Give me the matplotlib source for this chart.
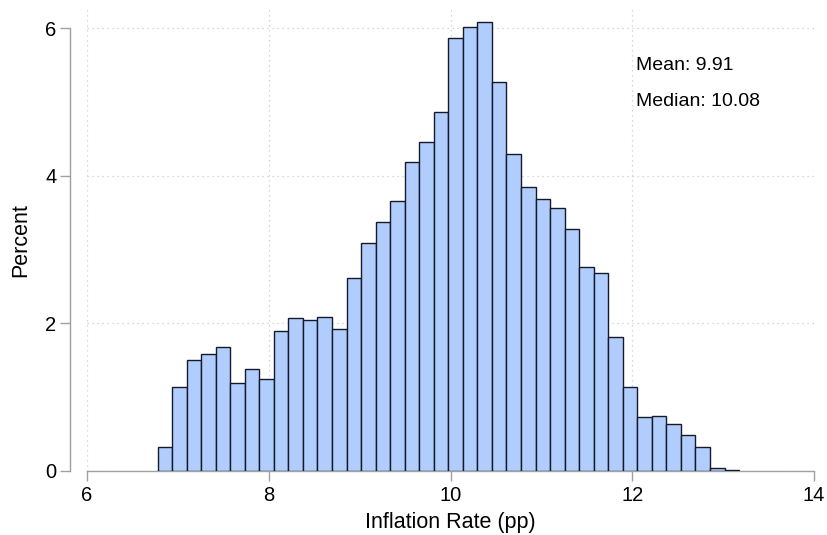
import numpy as np
import matplotlib
matplotlib.use('Agg')
import matplotlib.pyplot as plt

plt.rcParams['font.family'] = ['Liberation Sans', 'DejaVu Sans']

# histogram of inflation rate, bins of 0.16 pp starting at 6.776
bin_start = 6.776
bin_width = 0.16
percent = [0.33, 1.14, 1.51, 1.58, 1.68, 1.19, 1.38, 1.25, 1.90, 2.07,
           2.05, 2.09, 1.93, 2.61, 3.09, 3.37, 3.66, 4.19, 4.46, 4.86,
           5.87, 6.01, 6.08, 5.27, 4.29, 3.85, 3.68, 3.56, 3.28, 2.77,
           2.68, 1.82, 1.14, 0.73, 0.75, 0.64, 0.49, 0.33, 0.04, 0.02]
mean_val = 9.91
median_val = 10.08
xticks = [6, 8, 10, 12, 14]
yticks = [0, 2, 4, 6]

lefts = bin_start + bin_width * np.arange(len(percent))

fig = plt.figure(figsize=(8.28, 5.35), dpi=100)
ax = fig.add_axes([87 / 828, 64 / 535, 727 / 828, 462 / 535])

ax.bar(lefts, percent, width=bin_width, align='edge',
       color='#b0cdfd', edgecolor='#141a2a', linewidth=1.0, zorder=3)

ax.set_xlim(6, 14)
ax.set_ylim(0, 6.26)
ax.set_xticks(xticks)
ax.set_yticks(yticks)
ax.grid(True, linestyle=(0, (1, 3)), color='#cccccc', linewidth=0.9, zorder=0)

for s in ['top', 'right']:
    ax.spines[s].set_visible(False)
ax.spines['left'].set_position(('outward', 12))
ax.spines['left'].set_bounds(0, 6)
ax.spines['bottom'].set_bounds(6, 14)
for s in ['left', 'bottom']:
    ax.spines[s].set_color('#a0a0a0')
    ax.spines[s].set_linewidth(1.0)
ax.tick_params(axis='both', colors='#a0a0a0', labelcolor='black',
               length=7, width=1.0, labelsize=14.5)
ax.tick_params(axis='y', pad=3)
ax.tick_params(axis='x', pad=4)

ax.set_xlabel('Inflation Rate (pp)', fontsize=15.5, labelpad=5)
ax.set_ylabel('Percent', fontsize=15.5, labelpad=10)

ax.text(12.04, 5.50, 'Mean: %.2f' % mean_val, fontsize=14, va='center', ha='left')
ax.text(12.04, 5.01, 'Median: %.2f' % median_val, fontsize=14, va='center', ha='left')

fig.savefig('out.png', dpi=100)
